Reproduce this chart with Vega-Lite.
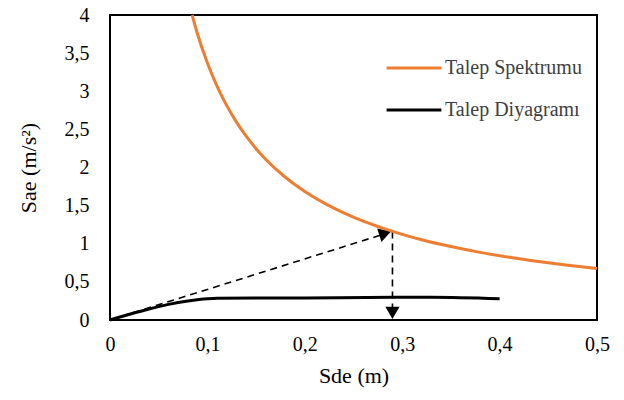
{
  "$schema": "https://vega.github.io/schema/vega-lite/v6.json",
  "width": 487,
  "height": 305,
  "autosize": "none",
  "padding": {"left": 110, "top": 15, "right": 27, "bottom": 80},
  "background": "white",
  "config": {
    "view": {"stroke": "#000000", "strokeWidth": 2},
    "font": "Liberation Serif",
    "axis": {"labelOverlap": false, "grid": false, "ticks": false, "domain": false}
  },
  "datasets": {
    "curves": [
      {"series": "Talep Spektrumu", "sd": 0.0843, "sa": 4.0},
      {"series": "Talep Spektrumu", "sd": 0.09, "sa": 3.744},
      {"series": "Talep Spektrumu", "sd": 0.1, "sa": 3.37},
      {"series": "Talep Spektrumu", "sd": 0.11, "sa": 3.064},
      {"series": "Talep Spektrumu", "sd": 0.12, "sa": 2.808},
      {"series": "Talep Spektrumu", "sd": 0.13, "sa": 2.592},
      {"series": "Talep Spektrumu", "sd": 0.14, "sa": 2.407},
      {"series": "Talep Spektrumu", "sd": 0.15, "sa": 2.247},
      {"series": "Talep Spektrumu", "sd": 0.16, "sa": 2.106},
      {"series": "Talep Spektrumu", "sd": 0.18, "sa": 1.872},
      {"series": "Talep Spektrumu", "sd": 0.2, "sa": 1.685},
      {"series": "Talep Spektrumu", "sd": 0.22, "sa": 1.532},
      {"series": "Talep Spektrumu", "sd": 0.24, "sa": 1.404},
      {"series": "Talep Spektrumu", "sd": 0.26, "sa": 1.296},
      {"series": "Talep Spektrumu", "sd": 0.28, "sa": 1.204},
      {"series": "Talep Spektrumu", "sd": 0.3, "sa": 1.123},
      {"series": "Talep Spektrumu", "sd": 0.32, "sa": 1.053},
      {"series": "Talep Spektrumu", "sd": 0.35, "sa": 0.963},
      {"series": "Talep Spektrumu", "sd": 0.38, "sa": 0.887},
      {"series": "Talep Spektrumu", "sd": 0.41, "sa": 0.822},
      {"series": "Talep Spektrumu", "sd": 0.44, "sa": 0.766},
      {"series": "Talep Spektrumu", "sd": 0.47, "sa": 0.717},
      {"series": "Talep Spektrumu", "sd": 0.5, "sa": 0.674},
      {"series": "Talep Diyagramı", "sd": 0.0, "sa": 0.0},
      {"series": "Talep Diyagramı", "sd": 0.02, "sa": 0.075},
      {"series": "Talep Diyagramı", "sd": 0.04, "sa": 0.145},
      {"series": "Talep Diyagramı", "sd": 0.06, "sa": 0.205},
      {"series": "Talep Diyagramı", "sd": 0.08, "sa": 0.25},
      {"series": "Talep Diyagramı", "sd": 0.1, "sa": 0.28},
      {"series": "Talep Diyagramı", "sd": 0.11, "sa": 0.286},
      {"series": "Talep Diyagramı", "sd": 0.2, "sa": 0.29},
      {"series": "Talep Diyagramı", "sd": 0.3, "sa": 0.298},
      {"series": "Talep Diyagramı", "sd": 0.33, "sa": 0.298},
      {"series": "Talep Diyagramı", "sd": 0.4, "sa": 0.278}
    ],
    "dashes": [
      {"seg": "a", "sd": 0.0, "sa": 0.0},
      {"seg": "a", "sd": 0.282, "sa": 1.13},
      {"seg": "b", "sd": 0.29, "sa": 1.16},
      {"seg": "b", "sd": 0.29, "sa": 0.12}
    ],
    "heads": [
      {"dir": "diag", "sd": 0.2825, "sa": 1.135},
      {"dir": "down", "sd": 0.29, "sa": 0.095}
    ]
  },
  "encoding": {
    "x": {
      "field": "sd", "type": "quantitative",
      "scale": {"domain": [0, 0.5], "nice": false, "zero": true},
      "axis": {
        "title": "Sde (m)", "values": [0, 0.1, 0.2, 0.3, 0.4, 0.5],
        "labelExpr": "replace(format(datum.value, '~g'), '.', ',')",
        "labelFont": "Liberation Serif", "labelFontSize": 20, "labelColor": "#000000",
        "labelPadding": 14, "labelFlush": false,
        "titleFont": "Liberation Serif", "titleFontSize": 22, "titleFontWeight": "normal", "titleColor": "#000000",
        "titlePadding": 11
      }
    },
    "y": {
      "field": "sa", "type": "quantitative",
      "scale": {"domain": [0, 4], "nice": false},
      "axis": {
        "title": "Sae (m/s²)", "values": [0, 0.5, 1, 1.5, 2, 2.5, 3, 3.5, 4],
        "labelExpr": "replace(format(datum.value, '~g'), '.', ',')",
        "labelFont": "Liberation Serif", "labelFontSize": 20, "labelColor": "#000000",
        "labelPadding": 21, "labelFlush": false,
        "titleFont": "Liberation Serif", "titleFontSize": 22, "titleFontWeight": "normal", "titleColor": "#000000",
        "titlePadding": 24
      }
    }
  },
  "layer": [
    {
      "data": {"name": "dashes"},
      "mark": {"type": "line", "color": "#000000", "strokeWidth": 1.6, "strokeDash": [7, 5]},
      "encoding": {
        "detail": {"field": "seg"}
      }
    },
    {
      "data": {"name": "heads"},
      "transform": [{"filter": "datum.dir == 'diag'"}],
      "mark": {"type": "point", "shape": "triangle-right", "angle": 342.5, "filled": true, "color": "#000000", "size": 200, "opacity": 1},
      "encoding": {}
    },
    {
      "data": {"name": "heads"},
      "transform": [{"filter": "datum.dir == 'down'"}],
      "mark": {"type": "point", "shape": "triangle-down", "filled": true, "color": "#000000", "size": 200, "opacity": 1},
      "encoding": {}
    },
    {
      "data": {"name": "curves"},
      "mark": {"type": "line", "strokeWidth": 3, "interpolate": "monotone"},
      "encoding": {
        "color": {
          "field": "series", "type": "nominal",
          "scale": {"domain": ["Talep Spektrumu", "Talep Diyagramı"], "range": ["#ED7D31", "#000000"]},
          "legend": {
            "title": null, "orient": "none", "legendX": 275, "legendY": 24,
            "symbolType": "stroke", "symbolSize": 3000, "symbolStrokeWidth": 3,
            "labelFont": "Liberation Serif", "labelFontSize": 20, "labelColor": "#404040",
            "labelOffset": 2, "rowPadding": 3, "labelLimit": 300
          }
        },
        "detail": {"field": "series"}
      }
    }
  ]
}
